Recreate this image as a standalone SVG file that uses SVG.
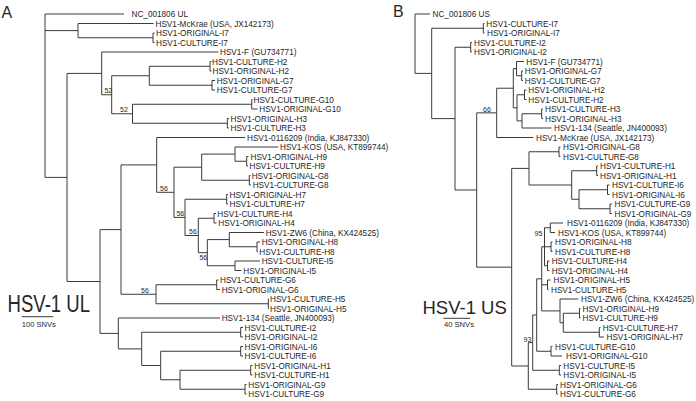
<svg xmlns="http://www.w3.org/2000/svg" width="696" height="401" viewBox="0 0 696 401">
<style>
.br{fill:none;stroke:#3a3a3a;stroke-width:1}
text{font-family:"Liberation Sans",Arial,sans-serif;fill:#262626}
.lf{font-size:8.2px}
.bs{font-size:7px;text-anchor:middle}
.pl{font-size:16px}
.tt{font-size:18.5px}
.sc{font-size:7.6px}
</style>
<rect width="696" height="401" fill="#fff"/>
<g id="connectors">
<path class="br" d="M45 14V177.4M45 14H124M45 30.6H78M45 177.4H67
M78 23.5V37.75M78 23.5H153.5M78 37.75H153
M153 33V42.5M153 33H154.5M153 42.5H154.5
M67 73.4V281.5M67 73.4H101.7M67 281.5H100
M101.7 52V94.75M101.7 52H218.3M101.7 94.75H111.7
M111.7 75.75V113.75M111.7 75.75H149.3M111.7 113.75H132.5
M149.3 66.25V85.25M149.3 66.25H210M149.3 85.25H212
M210 61.5V71M210 61.5H211.5M210 71H211.5
M212 80.5V90M212 80.5H215M212 90H215
M132.5 104.25V123.25M132.5 104.25H251.7M132.5 123.25H227.3
M251.7 99.5V109M251.7 99.5H252.5M251.7 109H257.5
M227.3 118.5V128M227.3 118.5H229M227.3 128H229
M100 229.6V333.4M100 229.6H121M100 333.4H118.3
M121 164.9V294.25M121 164.9H156.7M121 294.25H156
M156.7 137.5V192.3M156.7 137.5H245M156.7 192.3H174
M174 167.2V217.4M174 167.2H201.7M174 217.4H185
M201.7 154.1V180.25M201.7 154.1H235M201.7 180.25H249.3
M235 147V161.25M235 147H278.3M235 161.25H246.7
M246.7 156.5V166M246.7 156.5H248.5M246.7 166H248
M249.3 175.5V185M249.3 175.5H250.5M249.3 185H251
M185 199.25V235.5M185 199.25H226.7M185 235.5H198.3
M226.7 194.5V204M226.7 194.5H228M226.7 204H228
M198.3 218.25V252.7M198.3 218.25H214M198.3 252.7H207.3
M214 213.5V223M214 213.5H216M214 223H216.5
M207.3 239.6V265.75M207.3 239.6H229.3M207.3 265.75H235
M229.3 232.5V246.75M229.3 232.5H264M229.3 246.75H257
M257 242V251.5M257 242H260M257 251.5H258
M235 261V270.5M235 261H260M235 270.5H241.5
M156 284.75V303.75M156 284.75H216.7M156 303.75H268.3
M216.7 280V289.5M216.7 280H218.5M216.7 289.5H220
M268.3 299V308.5M268.3 299H269M268.3 308.5H269
M118.3 318V348.9M118.3 318H220M118.3 348.9H141.7
M141.7 332.25V365.5M141.7 332.25H240.7M141.7 365.5H160.7
M240.7 327.5V337M240.7 327.5H243M240.7 337H243
M160.7 351.25V379.75M160.7 351.25H240.7M160.7 379.75H180
M240.7 346.5V356M240.7 346.5H243M240.7 356H243
M180 370.25V389.25M180 370.25H250.7M180 389.25H245
M250.7 365.5V375M250.7 365.5H252.5M250.7 375H252.5
M245 384.5V394M245 384.5H246.5M245 394H246.5"/>
<path class="br" d="M415 14V73.4M415 14H430M415 73.4H431.7
M431.7 28.25V118.6M431.7 28.25H483.3M431.7 118.6H455
M483.3 23.5V33M483.3 23.5H484.5M483.3 33H484.5
M455 47.25V190M455 47.25H470.7M455 190H476.7
M470.7 42.5V52M470.7 42.5H472M470.7 52H472
M476.7 112.86V267.16M476.7 112.86H496.7M476.7 267.16H511.7
M496.7 88.22V137.5M496.7 88.22H513.3M496.7 137.5H533.3
M513.3 68.6V107.8M513.3 68.6H516.5M513.3 107.8H517
M516.5 61.5V75.75M516.5 61.5H524M516.5 75.75H521.7
M521.7 71V80.5M521.7 71H523M521.7 80.5H523
M517 94.75V120.9M517 94.75H524.5M517 120.9H522
M524.5 90V99.5M524.5 90H526.5M524.5 99.5H526.5
M522 113.75V128M522 113.75H541.7M522 128H551.5
M541.7 109V118.5M541.7 109H543M541.7 118.5H543
M511.7 168.4V366M511.7 168.4H529M511.7 366H528.3
M529 151.75V185M529 151.75H559M529 185H571.7
M559 147V156.5M559 147H560.5M559 156.5H560.5
M571.7 170.75V199.25M571.7 170.75H596.7M571.7 199.25H579
M596.7 166V175.5M596.7 166H598M596.7 175.5H598
M579 189.75V208.75M579 189.75H607.5M579 208.75H610
M607.5 185V194.5M607.5 185H609.5M607.5 194.5H609.5
M610 204V213.5M610 204H612M610 213.5H612
M528.3 342.6V389.25M528.3 342.6H532.7M528.3 389.25H556.7
M556.7 384.5V394M556.7 384.5H558M556.7 394H558
M532.7 315V370.25M532.7 315H536.7M532.7 370.25H559.3
M559.3 365.5V375M559.3 365.5H561M559.3 375H561
M536.7 278.8V351.25M536.7 278.8H541.7M536.7 351.25H551
M551 346.5V356M551 346.5H552.5M551 356H562
M541.7 246.75V310.9M541.7 246.75H544.5M541.7 284.75H547.5M541.7 310.9H560
M544.5 227.75V265.75M544.5 227.75H550.3M544.5 246.75H551M544.5 265.75H547.5
M550.3 223V232.5M550.3 223H563M550.3 232.5H555
M551 242V251.5M551 242H552.5M551 251.5H552.5
M547.5 261V270.5M547.5 261H549.5M547.5 270.5H549.5
M547.5 280V289.5M547.5 280H550.5M547.5 289.5H548.5
M560 299V322.75M560 299H578.3M560 322.75H563.3
M563.3 313.25V332.25M563.3 313.25H579.5M563.3 332.25H599.3
M579.5 308.5V318M579.5 308.5H580.5M579.5 318H580.5
M599.3 327.5V337M599.3 327.5H600.5M599.3 337H604"/>
<path class="br" d="M21.7 316.7H53.3M443.3 318.3H470"/>
</g>
<g id="support">
<text class="bs" x="108.3" y="92.5">52</text>
<text class="bs" x="124" y="112">52</text>
<text class="bs" x="164" y="190.5">56</text>
<text class="bs" x="180.3" y="216">56</text>
<text class="bs" x="193" y="234">56</text>
<text class="bs" x="203.3" y="260.3">56</text>
<text class="bs" x="145" y="293">56</text>
<text class="bs" x="487" y="111.5">66</text>
<text class="bs" x="538.4" y="236">95</text>
<text class="bs" x="527.5" y="341.5">93</text>
</g>
<g id="titles">
<text class="pl" x="1.5" y="18.3">A</text>
<text class="pl" x="393" y="16.8">B</text>
<text x="7.5" y="312" font-size="23" textLength="82.5" lengthAdjust="spacingAndGlyphs">HSV-1 UL</text>
<text class="tt" x="422.5" y="313.5">HSV-1 US</text>
<text class="sc" x="21.7" y="327">100 SNVs</text>
<text class="sc" x="444" y="327">40 SNVs</text>
</g>
<g class="lf">
<g id="a-nc"><text x="131.5" y="17">NC_001806 UL</text></g>
<g id="a-mckrae"><text x="155.5" y="26.5">HSV1-McKrae (USA, JX142173)</text></g>
<g id="a-orig-i7"><text x="156" y="36">HSV1-ORIGINAL-I7</text></g>
<g id="a-cult-i7"><text x="156" y="45.5">HSV1-CULTURE-I7</text></g>
<g id="a-f"><text x="220" y="55">HSV1-F (GU734771)</text></g>
<g id="a-cult-h2"><text x="212" y="64.5">HSV1-CULTURE-H2</text></g>
<g id="a-orig-h2"><text x="212.5" y="74">HSV1-ORIGINAL-H2</text></g>
<g id="a-orig-g7"><text x="216.7" y="83.5">HSV1-ORIGINAL-G7</text></g>
<g id="a-cult-g7"><text x="216.7" y="93">HSV1-CULTURE-G7</text></g>
<g id="a-cult-g10"><text x="253.5" y="102.5">HSV1-CULTURE-G10</text></g>
<g id="a-orig-g10"><text x="259.3" y="112">HSV1-ORIGINAL-G10</text></g>
<g id="a-orig-h3"><text x="230.5" y="121.5">HSV1-ORIGINAL-H3</text></g>
<g id="a-cult-h3"><text x="230.5" y="131">HSV1-CULTURE-H3</text></g>
<g id="a-0116209"><text x="247" y="140.5">HSV1-0116209 (India, KJ847330)</text></g>
<g id="a-kos"><text x="280" y="150">HSV1-KOS (USA, KT899744)</text></g>
<g id="a-orig-h9"><text x="250.5" y="159.5">HSV1-ORIGINAL-H9</text></g>
<g id="a-cult-h9"><text x="249.5" y="169">HSV1-CULTURE-H9</text></g>
<g id="a-orig-g8"><text x="251.7" y="178.5">HSV1-ORIGINAL-G8</text></g>
<g id="a-cult-g8"><text x="252.7" y="188">HSV1-CULTURE-G8</text></g>
<g id="a-orig-h7"><text x="229.5" y="197.5">HSV1-ORIGINAL-H7</text></g>
<g id="a-cult-h7"><text x="229.5" y="207">HSV1-CULTURE-H7</text></g>
<g id="a-cult-h4"><text x="217.3" y="216.5">HSV1-CULTURE-H4</text></g>
<g id="a-orig-h4"><text x="218.3" y="226">HSV1-ORIGINAL-H4</text></g>
<g id="a-zw6"><text x="265.7" y="235.5">HSV1-ZW6 (China, KX424525)</text></g>
<g id="a-orig-h8"><text x="261.7" y="245">HSV1-ORIGINAL-H8</text></g>
<g id="a-cult-h8"><text x="259.3" y="254.5">HSV1-CULTURE-H8</text></g>
<g id="a-cult-i5"><text x="261.7" y="264">HSV1-CULTURE-I5</text></g>
<g id="a-orig-i5"><text x="243.3" y="273.5">HSV1-ORIGINAL-I5</text></g>
<g id="a-cult-g6"><text x="220" y="283">HSV1-CULTURE-G6</text></g>
<g id="a-orig-g6"><text x="221.7" y="292.5">HSV1-ORIGINAL-G6</text></g>
<g id="a-cult-h5"><text x="270" y="302">HSV1-CULTURE-H5</text></g>
<g id="a-orig-h5"><text x="270" y="311.5">HSV1-ORIGINAL-H5</text></g>
<g id="a-134"><text x="221.7" y="321">HSV1-134 (Seattle, JN400093)</text></g>
<g id="a-cult-i2"><text x="244.5" y="330.5">HSV1-CULTURE-I2</text></g>
<g id="a-orig-i2"><text x="244.5" y="340">HSV1-ORIGINAL-I2</text></g>
<g id="a-orig-i6"><text x="244.5" y="349.5">HSV1-ORIGINAL-I6</text></g>
<g id="a-cult-i6"><text x="244.5" y="359">HSV1-CULTURE-I6</text></g>
<g id="a-orig-h1"><text x="254.3" y="368.5">HSV1-ORIGINAL-H1</text></g>
<g id="a-cult-h1"><text x="254.3" y="378">HSV1-CULTURE-H1</text></g>
<g id="a-orig-g9"><text x="248.3" y="387.5">HSV1-ORIGINAL-G9</text></g>
<g id="a-cult-g9"><text x="248.3" y="397">HSV1-CULTURE-G9</text></g>

<g id="b-nc"><text x="432.5" y="17">NC_001806 US</text></g>
<g id="b-cult-i7"><text x="486.3" y="26.5">HSV1-CULTURE-I7</text></g>
<g id="b-orig-i7"><text x="487" y="36">HSV1-ORIGINAL-I7</text></g>
<g id="b-cult-i2"><text x="474" y="45.5">HSV1-CULTURE-I2</text></g>
<g id="b-orig-i2"><text x="474" y="55">HSV1-ORIGINAL-I2</text></g>
<g id="b-f"><text x="526.3" y="64.5">HSV1-F (GU734771)</text></g>
<g id="b-orig-g7"><text x="524.8" y="74">HSV1-ORIGINAL-G7</text></g>
<g id="b-cult-g7"><text x="524.8" y="83.5">HSV1-CULTURE-G7</text></g>
<g id="b-orig-h2"><text x="528.3" y="93">HSV1-ORIGINAL-H2</text></g>
<g id="b-cult-h2"><text x="528.3" y="102.5">HSV1-CULTURE-H2</text></g>
<g id="b-cult-h3"><text x="545" y="112">HSV1-CULTURE-H3</text></g>
<g id="b-orig-h3"><text x="545" y="121.5">HSV1-ORIGINAL-H3</text></g>
<g id="b-134"><text x="554" y="131">HSV1-134 (Seattle, JN400093)</text></g>
<g id="b-mckrae"><text x="536" y="140.5">HSV1-McKrae (USA, JX142173)</text></g>
<g id="b-orig-g8"><text x="563" y="150">HSV1-ORIGINAL-G8</text></g>
<g id="b-cult-g8"><text x="563" y="159.5">HSV1-CULTURE-G8</text></g>
<g id="b-cult-h1"><text x="600" y="169">HSV1-CULTURE-H1</text></g>
<g id="b-orig-h1"><text x="600" y="178.5">HSV1-ORIGINAL-H1</text></g>
<g id="b-cult-i6"><text x="612" y="188">HSV1-CULTURE-I6</text></g>
<g id="b-orig-i6"><text x="612" y="197.5">HSV1-ORIGINAL-I6</text></g>
<g id="b-cult-g9"><text x="614.5" y="207">HSV1-CULTURE-G9</text></g>
<g id="b-orig-g9"><text x="614.5" y="216.5">HSV1-ORIGINAL-G9</text></g>
<g id="b-0116209"><text x="567" y="226">HSV1-0116209 (India, KJ847330)</text></g>
<g id="b-kos"><text x="558" y="235.5">HSV1-KOS (USA, KT899744)</text></g>
<g id="b-orig-h8"><text x="555" y="245">HSV1-ORIGINAL-H8</text></g>
<g id="b-cult-h8"><text x="555" y="254.5">HSV1-CULTURE-H8</text></g>
<g id="b-cult-h4"><text x="551.7" y="264">HSV1-CULTURE-H4</text></g>
<g id="b-orig-h4"><text x="551.7" y="273.5">HSV1-ORIGINAL-H4</text></g>
<g id="b-orig-h5"><text x="553.5" y="283">HSV1-ORIGINAL-H5</text></g>
<g id="b-cult-h5"><text x="551" y="292.5">HSV1-CULTURE-H5</text></g>
<g id="b-zw6"><text x="581" y="302">HSV1-ZW6 (China, KX424525)</text></g>
<g id="b-orig-h9"><text x="582.5" y="311.5">HSV1-ORIGINAL-H9</text></g>
<g id="b-cult-h9"><text x="582.5" y="321">HSV1-CULTURE-H9</text></g>
<g id="b-cult-h7"><text x="602.7" y="330.5">HSV1-CULTURE-H7</text></g>
<g id="b-orig-h7"><text x="606.5" y="340">HSV1-ORIGINAL-H7</text></g>
<g id="b-cult-g10"><text x="555" y="349.5">HSV1-CULTURE-G10</text></g>
<g id="b-orig-g10"><text x="566" y="359">HSV1-ORIGINAL-G10</text></g>
<g id="b-cult-i5"><text x="563.3" y="368.5">HSV1-CULTURE-I5</text></g>
<g id="b-orig-i5"><text x="563.3" y="378">HSV1-ORIGINAL-I5</text></g>
<g id="b-orig-g6"><text x="560" y="387.5">HSV1-ORIGINAL-G6</text></g>
<g id="b-cult-g6"><text x="560" y="397">HSV1-CULTURE-G6</text></g>
</g>
</svg>
